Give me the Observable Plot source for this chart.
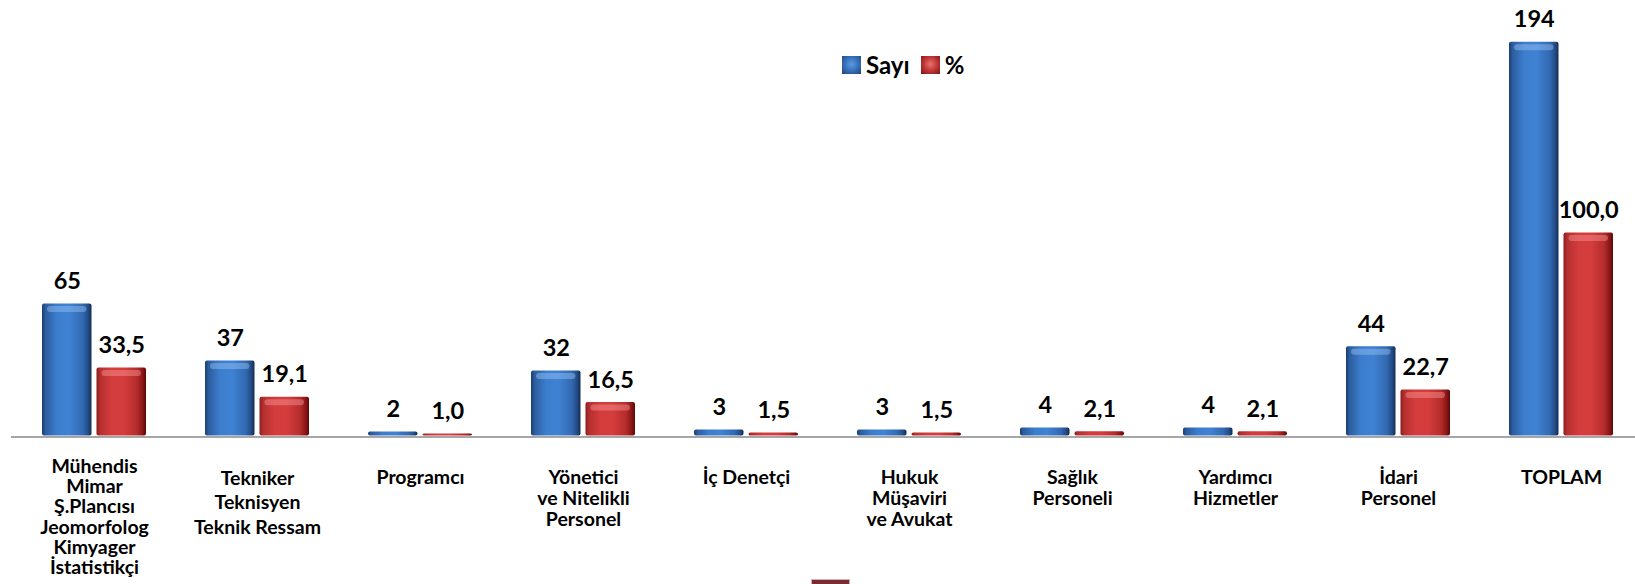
<!DOCTYPE html>
<html>
<head>
<meta charset="utf-8">
<script src="https://cdn.jsdelivr.net/npm/d3@7"></script>
<script src="https://cdn.jsdelivr.net/npm/@observablehq/plot@0.6"></script>
<style>
  html, body { margin: 0; padding: 0; background: #fff; }
  #wrap { position: relative; width: 1635px; height: 584px; font-family: Lato, "Open Sans", sans-serif; }
  #legend { position: absolute; left: 842px; top: 50px; display: flex; align-items: center; font-weight: 700; font-size: 24px; color: #000; }
  #legend .sw { width: 19px; height: 18px; margin-right: 5px; box-sizing: border-box; }
  #legend .item { display: flex; align-items: center; margin-right: 11px; }
  #bottomRect { position: absolute; left: 811px; top: 579px; width: 39px; height: 6px; background: #7a2a32; border: 1px solid #c9b0b3; box-sizing: border-box; }
</style>
</head>
<body>
<div id="wrap">
  <div id="chart"></div>
  <div id="legend"></div>
  <div id="bottomRect"></div>
</div>
<script>
// ---- data ----
const categories = [
  "Mühendis\nMimar\nŞ.Plancısı\nJeomorfolog\nKimyager\nİstatistikçi",
  "Tekniker\nTeknisyen\nTeknik Ressam",
  "Programcı",
  "Yönetici\nve Nitelikli\nPersonel",
  "İç Denetçi",
  "Hukuk\nMüşaviri\nve Avukat",
  "Sağlık\nPersoneli",
  "Yardımcı\nHizmetler",
  "İdari\nPersonel",
  "TOPLAM"
];
const sayi  = [65, 37, 2, 32, 3, 3, 4, 4, 44, 194];
const yuzde = [33.5, 19.1, 1.0, 16.5, 1.5, 1.5, 2.1, 2.1, 22.7, 100.0];
const seriesNames = ["Sayı", "%"];

const rows = categories.map((c, i) => ({cat: c, sayi: sayi[i], yuzde: yuzde[i]}));
const fmtPct = v => v.toFixed(1).replace(".", ",");

const half = 54.5;       // inset that splits each category band into two bars
const labelFont = 19.5;
const valueFont = 23.5;

const plot = Plot.plot({
  width: 1635,
  height: 584,
  marginLeft: 11,
  marginRight: 0,
  marginTop: 0,
  marginBottom: 0,
  style: {fontFamily: "Lato, 'Open Sans', sans-serif", background: "#fff"},
  x: {domain: categories, range: [40, 1615.5], paddingInner: 0.364, paddingOuter: 0, axis: null},
  y: {domain: [0, 194], range: [435.5, 41.7], axis: null},
  marks: [
    Plot.barY(rows, {x: "cat", y: "sayi", insetRight: half, fill: "url(#gBlue)", rx: 2}),
    Plot.barY(rows, {x: "cat", y: "yuzde", insetLeft: half, fill: "url(#gRed)", rx: 2}),
    // glossy top highlight
    Plot.tickY(rows.filter(d => d.sayi >= 8), {x: "cat", y: "sayi", dy: 5, insetLeft: 8, insetRight: half + 8,
      stroke: "#a6cdf7", strokeOpacity: 0.4, strokeWidth: 6, strokeLinecap: "round"}),
    Plot.tickY(rows.filter(d => d.yuzde >= 8), {x: "cat", y: "yuzde", dy: 5, insetLeft: half + 8, insetRight: 8,
      stroke: "#ffa3a3", strokeOpacity: 0.4, strokeWidth: 6, strokeLinecap: "round"}),
    Plot.ruleY([0], {stroke: "#a6a6a6", strokeWidth: 2, dy: 1}),
    // value labels
    Plot.text(rows, {x: "cat", y: "sayi", text: d => String(d.sayi), dx: -27.25, dy: -22.5, lineAnchor: "middle",
      fontSize: valueFont, fontWeight: 700, fill: "#000"}),
    Plot.text(rows, {x: "cat", y: "yuzde", text: d => fmtPct(d.yuzde), dx: 27.25, dy: -22.5, lineAnchor: "middle",
      fontSize: valueFont, fontWeight: 700, fill: "#000"}),
    // category labels
    Plot.text(rows.filter((d, i) => i === 0), {x: "cat", text: "cat", y: () => 0,
      lineAnchor: "top", dy: 23, lineHeight: 1.03, fontSize: labelFont, fontWeight: 700, fill: "#000"}),
    Plot.text(rows.filter((d, i) => i === 1), {x: "cat", text: "cat", y: () => 0,
      lineAnchor: "top", dy: 31, lineHeight: 1.27, fontSize: labelFont, fontWeight: 700, fill: "#000"}),
    Plot.text(rows.filter((d, i) => i > 1), {x: "cat", text: "cat", y: () => 0,
      lineAnchor: "top", dy: 33, lineHeight: 1.08, fontSize: labelFont, fontWeight: 700, fill: "#000"})
  ]
});

// gradients for glossy bars
const ns = "http://www.w3.org/2000/svg";
const defs = document.createElementNS(ns, "defs");
function grad(id, stops) {
  const g = document.createElementNS(ns, "linearGradient");
  g.setAttribute("id", id);
  g.setAttribute("x1", "0"); g.setAttribute("x2", "1"); g.setAttribute("y1", "0"); g.setAttribute("y2", "0");
  for (const [o, c] of stops) {
    const s = document.createElementNS(ns, "stop");
    s.setAttribute("offset", o); s.setAttribute("stop-color", c);
    g.appendChild(s);
  }
  defs.appendChild(g);
}
grad("gBlue", [[0, "#1b3d6c"], [0.07, "#2c5d9f"], [0.3, "#3c7dcd"], [0.55, "#3f82d3"], [0.82, "#3269b2"], [0.93, "#234c86"], [1, "#142c52"]]);
grad("gRed", [[0, "#8a1c1c"], [0.07, "#b52f2f"], [0.3, "#d33c3c"], [0.55, "#d53d3d"], [0.82, "#b52c2c"], [0.93, "#8a1616"], [1, "#5c0808"]]);
plot.insertBefore(defs, plot.firstChild);

document.getElementById("chart").appendChild(plot);

// legend
const legend = document.getElementById("legend");
const swatchBg = [
  "radial-gradient(circle at 50% 45%, #5f9be0 0%, #3a74c0 45%, #1f4577 100%)",
  "radial-gradient(circle at 50% 45%, #e97474 0%, #c63a3a 45%, #7a1414 100%)"
];
seriesNames.forEach((name, i) => {
  const item = document.createElement("div");
  item.className = "item";
  const sw = document.createElement("div");
  sw.className = "sw";
  sw.style.background = swatchBg[i];
  const t = document.createElement("span");
  t.textContent = name;
  item.appendChild(sw); item.appendChild(t);
  legend.appendChild(item);
});
</script>
</body>
</html>
